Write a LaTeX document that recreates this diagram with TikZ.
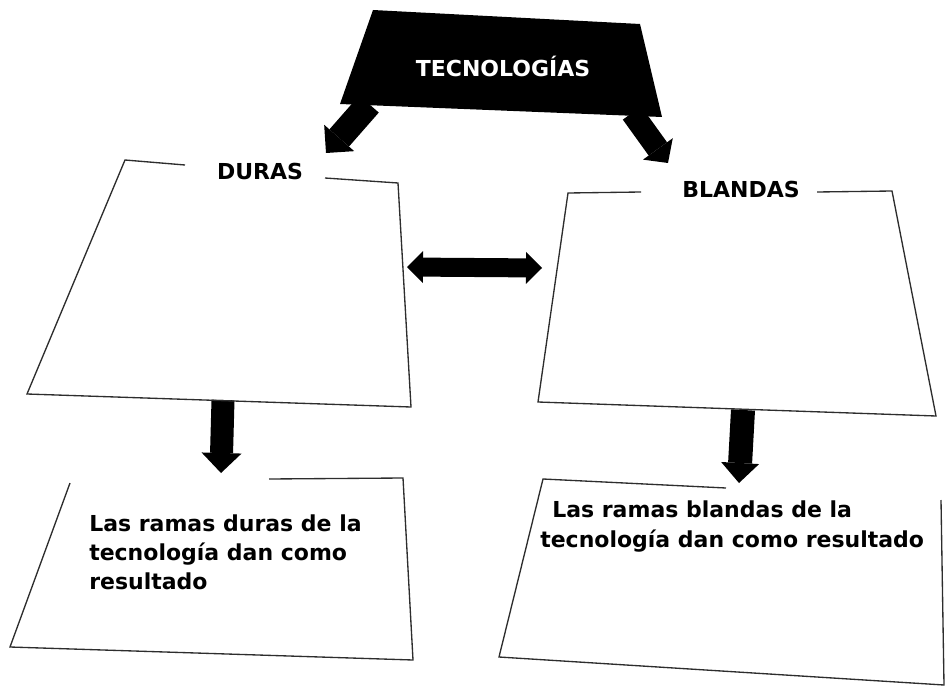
\documentclass[tikz,border=0pt]{standalone}
\usepackage{fontspec}
\setmainfont{DejaVu Sans}
\usetikzlibrary{arrows.meta}

\tikzset{
  caja/.style={draw={rgb, 255:red, 45; green, 45; blue, 45}, line width=1pt, line join=miter},
  rotulo/.style={anchor=base, inner sep=0.75pt, font=\fontsize{16.5}{21}\selectfont\bfseries},
  cuerpo/.style={anchor=base west, inner sep=0.75pt, align=left, font=\fontsize{16.5}{21.5}\selectfont\bfseries},
  bloque/.style={draw=black, line cap=butt},
}

\begin{document}
\begin{tikzpicture}[x=0.75pt,y=0.75pt,yscale=-1,xscale=1]
\useasboundingbox (0,0) rectangle (949,688);

%Shape: title block
\fill (373,10) -- (640,24) -- (662,117) -- (340,104) -- cycle ;
% Text Node
\node (tecno) [rotulo, text=white] at (503,77) {TECNOLOGÍAS};

% arrow ends
\coordinate (tecnoL) at (369,104);
\coordinate (tecnoR) at (632,113);
\coordinate (durasIn) at (326,153);
\coordinate (blandasIn) at (668,163);
\coordinate (durasOut) at (223,400);
\coordinate (blandasOut) at (743,410);
\coordinate (resDuras) at (221,473);
\coordinate (resBlandas) at (739,483);
\coordinate (entreL) at (407,267);
\coordinate (entreR) at (542,268);

%Block arrows
\draw [bloque, line width=19.5pt, -{Triangle[length=15pt,width=30pt,line width=0pt]}] (tecnoL) -- (durasIn);
\draw [bloque, line width=17pt, -{Triangle[length=13pt,width=27.5pt,line width=0pt]}] (tecnoR) -- (blandasIn);
\draw [bloque, line width=14.25pt, {Triangle[length=12pt,width=24pt,line width=0pt]}-{Triangle[length=12pt,width=24pt,line width=0pt]}] (entreL) -- (entreR);
\draw [bloque, line width=17.25pt, -{Triangle[length=15pt,width=30pt,line width=0pt]}] (durasOut) -- (resDuras);
\draw [bloque, line width=18pt, -{Triangle[length=15pt,width=28.5pt,line width=0pt]}] (blandasOut) -- (resBlandas);

%Shape: DURAS box
\draw [caja] (185,165) -- (125,160) -- (27,394) -- (411,407) -- (398,183) -- (325,178) ;
% Text Node
\node (duras) [rotulo] at (260,180) {DURAS};

%Shape: BLANDAS box
\draw [caja] (641,192) -- (568,193) -- (538,402) -- (936,416) -- (892,191) -- (817,192) ;
% Text Node
\node (blandas) [rotulo] at (741,198) {BLANDAS};

%Shape: result box, left
\draw [caja] (269,479) -- (403,478) -- (413,660) -- (10,647) -- (70,483) ;
% Text Node
\node (durasTxt) [cuerpo] at (88,589) {Las ramas duras de la\\tecnología dan como\\resultado};

%Shape: result box, right
\draw [caja] (726,488) -- (543,479) -- (499,657) -- (944,685) -- (941,500) ;
% Text Node
\node (blandasTxt) [cuerpo, font=\fontsize{16.5}{22.5}\selectfont\bfseries] at (539,547) {\hspace*{9pt}Las ramas blandas de la\\tecnología dan como resultado};
\end{tikzpicture}
\end{document}
